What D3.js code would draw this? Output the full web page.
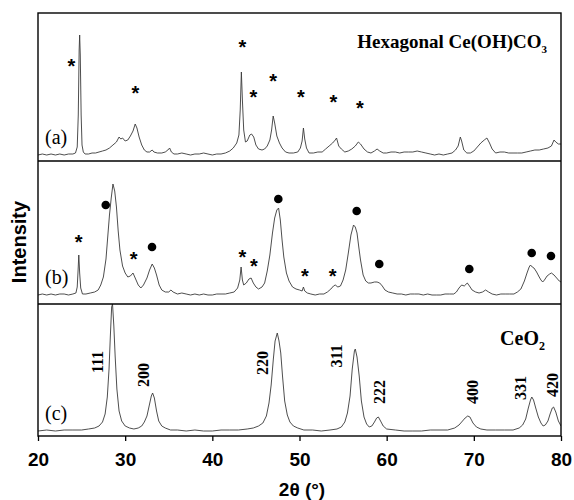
<!DOCTYPE html>
<html>
<head>
<meta charset="utf-8">
<script src="https://cdn.jsdelivr.net/npm/d3@7"></script>
<style>
  body { margin: 0; background: #fff; }
  svg { display: block; }
</style>
</head>
<body>
<svg id="xrd-svg" width="574" height="500"></svg>
<script>
// XRD patterns, [2theta, relative intensity]
const patternA = [[20,0],[20.5,1],[21,0],[21.5,1],[22,0],[22.5,1],[23,0],[23.5,1],[24,1],[24.3,2],[24.5,8],[24.62,40],[24.72,105],[24.78,120],[24.85,100],[24.95,40],[25.05,10],[25.2,3],[25.4,1],[25.8,1],[26.2,2],[26.6,2],[27,3],[27.4,4],[27.8,5],[28.2,7],[28.6,10],[29.0,13],[29.3,18],[29.5,16],[29.7,17],[30.0,14],[30.3,15],[30.6,19],[30.9,24],[31.15,31],[31.35,27],[31.6,18],[31.9,10],[32.2,5],[32.5,3],[32.8,3],[33.1,5],[33.3,3],[33.7,2],[34.2,2],[34.6,3],[34.9,5],[35.1,7],[35.3,3],[35.6,1],[36.0,1],[36.5,2],[37.0,1],[37.5,0],[38,1],[38.5,1],[39,2],[39.5,1],[40,0],[40.5,1],[41,1],[41.5,2],[42,4],[42.4,7],[42.8,12],[43.05,20],[43.2,45],[43.33,83],[43.45,55],[43.6,25],[43.8,13],[44.0,14],[44.3,20],[44.5,21],[44.75,18],[45.0,10],[45.3,6],[45.7,5],[46.0,6],[46.3,9],[46.6,15],[46.8,25],[46.98,39],[47.15,32],[47.4,19],[47.7,12],[48.0,7],[48.4,3],[48.8,2],[49.3,2],[49.8,3],[50.1,7],[50.3,14],[50.45,27],[50.6,16],[50.8,7],[51.1,2],[51.6,2],[52.1,3],[52.6,3],[53.0,6],[53.4,9],[53.8,12],[54.1,15],[54.25,17],[54.5,9],[54.8,6],[55.2,3],[55.6,4],[56.0,6],[56.4,9],[56.75,13],[57.0,11],[57.4,6],[57.8,3],[58.2,2],[58.6,4],[58.9,6],[59.2,4],[59.6,2],[60.0,2],[60.5,3],[61,3],[61.5,2],[62,3],[62.5,3],[63,3],[63.5,4],[64,3],[64.5,2],[65,1],[65.5,0],[66,1],[66.5,0],[67,1],[67.5,2],[67.9,5],[68.2,9],[68.45,18],[68.6,14],[68.85,5],[69.2,2],[69.6,2],[70.0,4],[70.4,8],[70.8,12],[71.2,15],[71.5,17],[71.8,12],[72.1,6],[72.5,2],[73,3],[73.5,3],[74,2],[74.5,2],[75,2],[75.5,2],[76,3],[76.5,4],[77,5],[77.5,5],[78,6],[78.5,7],[78.9,9],[79.2,15],[79.4,13],[79.7,11],[80,11]];

const patternB = [[20,0],[20.5,1],[21,0],[21.5,1],[22,0],[22.5,1],[23,1],[23.5,0],[24,1],[24.35,2],[24.5,8],[24.6,25],[24.68,40],[24.78,22],[24.9,7],[25.1,1],[25.5,1],[26.0,2],[26.5,3],[26.9,5],[27.2,10],[27.5,18],[27.8,36],[28.0,58],[28.2,80],[28.4,97],[28.6,111],[28.8,104],[29.0,88],[29.2,64],[29.4,45],[29.7,29],[30.0,22],[30.3,18],[30.6,19],[30.9,22],[31.1,18],[31.3,14],[31.5,10],[31.8,7],[32.1,10],[32.5,17],[32.8,25],[33.1,31],[33.35,27],[33.6,20],[33.9,10],[34.2,5],[34.6,3],[35.0,3],[35.25,5],[35.5,3],[36.0,1],[36.5,2],[37,1],[37.5,0],[38,1],[38.5,0],[39,1],[39.5,0],[40,0],[40.5,1],[41,1],[41.5,1],[42,2],[42.5,3],[42.9,7],[43.15,15],[43.3,28],[43.45,15],[43.6,10],[43.9,12],[44.2,16],[44.45,17],[44.7,12],[45.0,8],[45.3,6],[45.7,8],[46.0,12],[46.3,24],[46.6,40],[46.9,62],[47.15,77],[47.4,85],[47.6,87],[47.8,75],[48.0,55],[48.2,38],[48.5,22],[48.8,14],[49.2,8],[49.6,6],[50.0,5],[50.3,4],[50.45,8],[50.6,4],[50.9,2],[51.3,1],[51.8,0],[52.3,1],[52.8,1],[53.2,3],[53.6,6],[53.9,9],[54.1,10],[54.4,8],[54.7,9],[55.0,15],[55.3,25],[55.6,42],[55.9,60],[56.2,70],[56.4,68],[56.6,62],[56.8,48],[57.0,35],[57.3,20],[57.6,14],[57.9,12],[58.2,12],[58.6,13],[58.9,13],[59.2,12],[59.5,9],[59.8,5],[60.2,3],[60.7,2],[61.2,1],[61.7,1],[62.2,0],[62.7,1],[63.2,1],[63.7,1],[64.2,0],[64.7,1],[65.2,0],[65.7,0],[66.2,0],[66.7,1],[67.2,1],[67.7,1],[68.0,3],[68.3,7],[68.6,10],[68.9,9],[69.25,12],[69.5,9],[69.8,5],[70.2,3],[70.6,2],[71.0,3],[71.35,5],[71.7,3],[72.1,1],[72.6,0],[73.1,1],[73.6,1],[74.1,1],[74.6,1],[75.0,3],[75.4,6],[75.8,14],[76.1,22],[76.35,28],[76.5,30],[76.7,28],[76.9,27],[77.2,23],[77.5,18],[77.7,15],[77.9,13],[78.1,15],[78.4,19],[78.7,21],[78.9,22],[79.2,20],[79.5,17],[79.8,14],[80,13]];

const patternC = [[20,0],[21,1],[22,0],[23,1],[24,1],[25,1],[25.8,2],[26.5,3],[27.0,5],[27.4,9],[27.7,17],[27.95,34],[28.15,62],[28.3,95],[28.45,124],[28.55,127],[28.7,105],[28.85,75],[29.05,42],[29.3,20],[29.6,10],[30.0,5],[30.5,3],[31.0,2],[31.5,3],[31.9,5],[32.2,9],[32.5,15],[32.75,25],[33.0,35],[33.15,38],[33.35,33],[33.6,20],[33.85,10],[34.2,5],[34.6,3],[35.2,1],[36,1],[37,0],[38,1],[39,0],[40,0],[41,1],[42,1],[43,1],[44,2],[44.7,3],[45.3,5],[45.8,8],[46.2,15],[46.5,28],[46.75,46],[47.0,72],[47.2,90],[47.45,98],[47.65,90],[47.85,78],[48.05,55],[48.3,30],[48.6,16],[48.9,9],[49.3,5],[49.8,3],[50.5,1],[51.5,1],[52.5,0],[53.5,1],[54.3,2],[54.8,4],[55.2,9],[55.5,18],[55.8,35],[56.05,62],[56.3,80],[56.4,82],[56.6,74],[56.85,55],[57.1,30],[57.4,14],[57.7,7],[58.0,4],[58.3,5],[58.6,9],[58.85,13],[59.05,14],[59.3,10],[59.6,5],[60.0,2],[61,1],[62,0],[63,0],[64,0],[65,1],[66,1],[67,1],[67.8,3],[68.3,6],[68.7,10],[69.0,13],[69.3,15],[69.55,14],[69.9,8],[70.3,4],[70.8,2],[71.5,1],[72.5,1],[73.5,1],[74.5,1],[75.2,3],[75.6,6],[75.95,12],[76.25,23],[76.5,31],[76.65,34],[76.85,31],[77.1,23],[77.4,14],[77.7,8],[77.95,5],[78.2,6],[78.5,10],[78.75,17],[79.0,23],[79.15,24],[79.4,19],[79.7,10],[80,5]];

// peak markers: "*" = Ce(OH)CO3, "o" = CeO2  [2theta, intensity, type]
const markersA = [[23.82,93,"*"],[31.16,66,"*"],[43.44,112,"*"],[44.70,62,"*"],[46.99,78,"*"],[50.17,62,"*"],[53.88,57,"*"],[56.94,51,"*"]];
const markersB = [[24.67,57,"*"],[27.77,90,"o"],[30.98,40,"*"],[33.08,48,"o"],[43.44,42,"*"],[44.78,33,"*"],[47.57,96,"o"],[50.63,23,"*"],[53.81,23,"*"],[56.56,84,"o"],[59.15,31,"o"],[69.48,26,"o"],[76.64,42,"o"],[78.85,39,"o"]];

// CeO2 reflections and label anchor [2theta, intensity]
const hklLabels = ["111","200","220","311","222","400","331","420"];
const hklPos = [[26.88,69],[32.05,56],[45.70,68],[54.30,75],[59.23,39],[69.79,39],[75.30,43],[79.08,46]];

const xTicks = [20, 30, 40, 50, 60, 70, 80];
const panelTags = ["(a)", "(b)", "(c)"];

const size = { left: 38, right: 561, top: 13, bottom: 436 };
const svg = d3.select("#xrd-svg");

const x = d3.scaleLinear().domain([20, 80]).range([size.left, size.right]);

// three stacked panels, each with its own intensity scale
const panels = [
  { data: patternA, top: 13,  bottom: 161, domain: [-6, 142] },
  { data: patternB, top: 161, bottom: 304, domain: [-9, 134] },
  { data: patternC, top: 304, bottom: 436, domain: [-5, 127] }
];

panels.forEach(function(p, i) {
  p.y = d3.scaleLinear().domain(p.domain).range([p.bottom, p.top]);

  svg.append("clipPath").attr("id", "clip" + i)
    .append("rect")
    .attr("x", size.left).attr("y", p.top)
    .attr("width", size.right - size.left).attr("height", p.bottom - p.top);

  const line = d3.line()
    .x(d => x(d[0]))
    .y(d => p.y(d[1]));

  svg.append("path")
    .datum(p.data)
    .attr("clip-path", `url(#clip${i})`)
    .attr("d", line)
    .attr("fill", "none")
    .attr("stroke", "#3a3a3a")
    .attr("stroke-width", 0.9);

  svg.append("text")
    .attr("x", 45)
    .attr("y", p.y(0) - 18)
    .attr("dominant-baseline", "central")
    .style("font-family", "'Liberation Serif', 'Times New Roman', serif")
    .style("font-size", "20px")
    .text(panelTags[i]);
});

// markers
function drawMarkers(markers, yScale) {
  markers.forEach(function(m) {
    if (m[2] === "o") {
      svg.append("circle")
        .attr("cx", x(m[0]))
        .attr("cy", yScale(m[1]))
        .attr("r", 4.3)
        .attr("fill", "#000");
    } else {
      svg.append("text")
        .attr("x", x(m[0]))
        .attr("y", yScale(m[1]) + 11)
        .attr("text-anchor", "middle")
        .style("font-family", "'Liberation Sans', Arial, sans-serif")
        .style("font-weight", "bold")
        .style("font-size", "20px")
        .text("*");
    }
  });
}
drawMarkers(markersA, panels[0].y);
drawMarkers(markersB, panels[1].y);

// hkl labels, rotated
hklPos.forEach(function(d, i) {
  const px = x(d[0]), py = panels[2].y(d[1]);
  svg.append("text")
    .attr("transform", `translate(${px},${py}) rotate(-90)`)
    .attr("text-anchor", "middle")
    .attr("dominant-baseline", "central")
    .style("font-family", "'Liberation Serif', 'Times New Roman', serif")
    .style("font-weight", "bold")
    .style("font-size", "16px")
    .text(hklLabels[i]);
});

// phase names
const title1 = svg.append("text")
  .attr("x", 547).attr("y", 48)
  .attr("text-anchor", "end")
  .style("font-family", "'Liberation Serif', 'Times New Roman', serif")
  .style("font-weight", "bold")
  .style("font-size", "19px");
title1.append("tspan").text("Hexagonal Ce(OH)CO");
title1.append("tspan").attr("dy", 5).style("font-size", "11px").text("3");

const title2 = svg.append("text")
  .attr("x", 545).attr("y", 345)
  .attr("text-anchor", "end")
  .style("font-family", "'Liberation Serif', 'Times New Roman', serif")
  .style("font-weight", "bold")
  .style("font-size", "20px");
title2.append("tspan").text("CeO");
title2.append("tspan").attr("dy", 5).style("font-size", "12px").text("2");

// x axis
const xAxis = svg.append("g")
  .attr("transform", `translate(0,${size.bottom})`)
  .call(d3.axisBottom(x).tickValues(xTicks).tickSize(5).tickPadding(12).tickFormat(d3.format("d")));
xAxis.select(".domain").remove();
xAxis.selectAll("line").attr("stroke", "#000").attr("stroke-width", 1.3);
xAxis.selectAll("text")
  .attr("fill", "#000")
  .style("font-family", "'Liberation Sans', Arial, sans-serif")
  .style("font-weight", "bold")
  .style("font-size", "19px");

// frame and panel dividers
svg.append("rect")
  .attr("x", size.left).attr("y", size.top)
  .attr("width", size.right - size.left).attr("height", size.bottom - size.top)
  .attr("fill", "none").attr("stroke", "#000").attr("stroke-width", 1.4);
[161, 304].forEach(function(yy) {
  svg.append("line")
    .attr("x1", size.left).attr("x2", size.right)
    .attr("y1", yy).attr("y2", yy)
    .attr("stroke", "#000").attr("stroke-width", 1.4);
});

// axis titles
svg.append("text")
  .attr("x", 302).attr("y", 496)
  .attr("text-anchor", "middle")
  .style("font-family", "'Liberation Sans', Arial, sans-serif")
  .style("font-weight", "bold")
  .style("font-size", "19px")
  .text("2θ (°)");

svg.append("text")
  .attr("transform", "translate(19,242) rotate(-90)")
  .attr("text-anchor", "middle")
  .attr("dominant-baseline", "central")
  .style("font-family", "'Liberation Sans', Arial, sans-serif")
  .style("font-weight", "bold")
  .style("font-size", "20px")
  .text("Intensity");
</script>
</body>
</html>
